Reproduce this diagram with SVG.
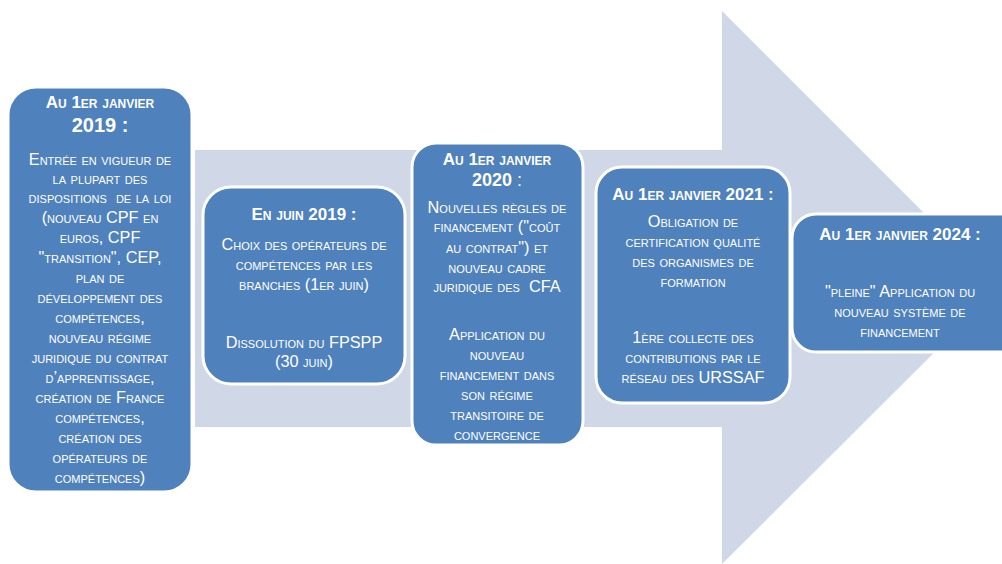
<svg xmlns="http://www.w3.org/2000/svg" width="1002" height="564" viewBox="0 0 1002 564">
<style>
.box{fill:#4F81BD;stroke:#FFFFFF;stroke-width:3}
text{font-family:"Liberation Sans",Arial,sans-serif;font-variant:small-caps;fill:#FFFFFF;text-anchor:middle;white-space:pre}
.t{font-size:17px;font-weight:bold}
.b{font-size:16.3px}
</style>
<rect width="1002" height="564" fill="#FFFFFF"/>
<g id="arrow">
<polygon points="195,150 722,150 722,11 999,288 722,564 722,427 195,427" fill="#D0D8E8"/>
</g>
<g id="connectors"></g>
<g id="node1">
<rect class="box" x="8" y="87" width="184" height="405" rx="28"/>
<text class="t" x="100" y="108">Au 1er janvier</text>
<text class="t" x="100" y="132" style="font-size:20px">2019 :</text>
<text class="b" x="100" y="165">Entrée en vigueur de</text>
<text class="b" x="100" y="184">la plupart des</text>
<text class="b" x="100" y="203">dispositions  de la loi</text>
<text class="b" x="100" y="223">(nouveau CPF en</text>
<text class="b" x="100" y="243">euros, CPF</text>
<text class="b" x="100" y="263">"transition", CEP,</text>
<text class="b" x="100" y="283">plan de</text>
<text class="b" x="100" y="303">développement des</text>
<text class="b" x="100" y="323">compétences,</text>
<text class="b" x="100" y="343">nouveau régime</text>
<text class="b" x="100" y="363">juridique du contrat</text>
<text class="b" x="100" y="383">d’apprentissage,</text>
<text class="b" x="100" y="403">création de France</text>
<text class="b" x="100" y="423">compétences,</text>
<text class="b" x="100" y="443">création des</text>
<text class="b" x="100" y="463">opérateurs de</text>
<text class="b" x="100" y="483">compétences)</text>
</g>
<g id="node2">
<rect class="box" x="203" y="187" width="202" height="197" rx="28"/>
<text class="t" x="304" y="220">En juin 2019 :</text>
<text class="b" x="304" y="250">Choix des opérateurs de</text>
<text class="b" x="304" y="270">compétences par les</text>
<text class="b" x="304" y="290">branches (1er juin)</text>
<text class="b" x="304" y="348">Dissolution du FPSPP</text>
<text class="b" x="304" y="367">(30 juin)</text>
</g>
<g id="node3">
<rect class="box" x="412" y="143" width="171" height="302" rx="24"/>
<text class="t" x="497" y="165">Au 1er janvier</text>
<text class="t" x="497" y="186" style="font-size:18px">2020 <tspan font-weight="normal">:</tspan></text>
<text class="b" x="497" y="213">Nouvelles règles de</text>
<text class="b" x="497" y="232">financement ("coût</text>
<text class="b" x="497" y="253">au contrat") et</text>
<text class="b" x="497" y="273">nouveau cadre</text>
<text class="b" x="497" y="292">juridique des  CFA</text>
<text class="b" x="497" y="340">Application du</text>
<text class="b" x="497" y="360">nouveau</text>
<text class="b" x="497" y="380">financement dans</text>
<text class="b" x="497" y="400">son régime</text>
<text class="b" x="497" y="420">transitoire de</text>
<text class="b" x="497" y="440">convergence</text>
</g>
<g id="node4">
<rect class="box" x="596" y="167" width="194" height="236" rx="26"/>
<text class="t" x="693" y="200">Au 1er janvier 2021 :</text>
<text class="b" x="693" y="227">Obligation de</text>
<text class="b" x="693" y="247">certification qualité</text>
<text class="b" x="693" y="267">des organismes de</text>
<text class="b" x="693" y="287">formation</text>
<text class="b" x="693" y="343">1ère collecte des</text>
<text class="b" x="693" y="363">contributions par le</text>
<text class="b" x="693" y="383">réseau des URSSAF</text>
</g>
<g id="node5">
<rect class="box" x="792" y="214" width="232" height="138" rx="24"/>
<text class="t" x="900" y="240">Au 1er janvier 2024 :</text>
<text class="b" x="900" y="297">"pleine" Application du</text>
<text class="b" x="900" y="317">nouveau système de</text>
<text class="b" x="900" y="337">financement</text>
</g>
</svg>
